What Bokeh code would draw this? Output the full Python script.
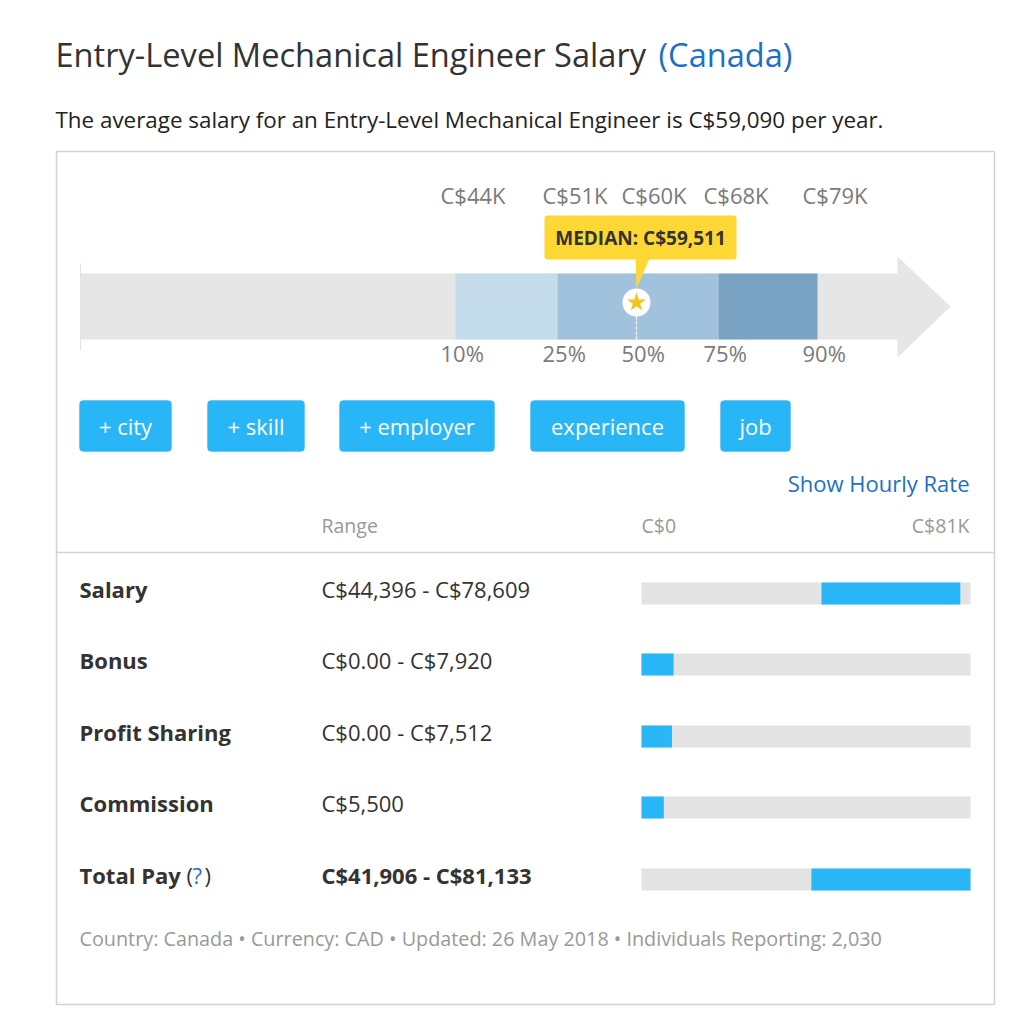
from bokeh.plotting import figure
from bokeh.models import Range1d, BoxAnnotation
from bokeh.embed import file_html
from bokeh.resources import INLINE
from bokeh.core.properties import value

# ---------------- data ----------------
job_title = "Entry-Level Mechanical Engineer Salary"
country = "(Canada)"
subtitle = "The average salary for an Entry-Level Mechanical Engineer is C$59,090 per year."
percentiles = ["10%", "25%", "50%", "75%", "90%"]
percentile_labels = ["C$44K", "C$51K", "C$60K", "C$68K", "C$79K"]
median_label = "MEDIAN: C$59,511"
buttons = ["+ city", "+ skill", "+ employer", "experience", "job"]
rows = ["Salary", "Bonus", "Profit Sharing", "Commission", "Total Pay"]
range_labels = ["C$44,396 - C$78,609", "C$0.00 - C$7,920", "C$0.00 - C$7,512",
                "C$5,500", "C$41,906 - C$81,133"]
low = [44396, 0, 0, 0, 41906]
high = [78609, 7920, 7512, 5500, 81133]
scale_min = 0
scale_max = 81133
scale_labels = ["C$0", "C$81K"]
footer = "Country: Canada \u2022 Currency: CAD \u2022 Updated: 26 May 2018 \u2022 Individuals Reporting: 2,030"

# ---------------- layout (pixels) ----------------
W, H = 1024, 1014
FONT = value("Open Sans")
DARK = "#333333"
GREY_TXT = "#7a7a7a"
LIGHT_TXT = "#999999"
LINK = "#1f6fc5"
BTN = "#29b6f6"

pct_x = [455, 557, 636, 718, 817]          # segment boundaries on the arrow
seg_colors = ["#c5dcec", "#a1c2dd", "#a1c2dd", "#7aa2c3"]
btn_left = [79, 207, 339, 530, 720]
btn_right = [171, 304, 494, 684, 790]
row_y = [593, 664, 736, 807, 879]
bar_left_px, bar_right_px = 641, 970

p = figure(width=W, height=H, output_backend="svg", toolbar_location=None,
           x_range=Range1d(0, W), y_range=Range1d(H, 0),
           x_axis_location=None, y_axis_location=None, min_border=0)
p.grid.visible = False
p.outline_line_color = None
p.background_fill_color = "white"
p.border_fill_color = "white"

# pay scale range mapped onto the table bars
k = (scale_max - scale_min) / (bar_right_px - bar_left_px)
p.extra_x_ranges = {"pay": Range1d(scale_min - bar_left_px * k, scale_min + (W - bar_left_px) * k)}

# titles
p.text(x=[55], y=[54], text=[job_title], text_font=FONT, text_font_size="32.6px",
       text_color=DARK, text_baseline="middle")
p.text(x=[658], y=[54], text=[country], text_font=FONT, text_font_size="32.6px",
       text_color=LINK, text_baseline="middle")
p.text(x=[55], y=[119], text=[subtitle], text_font=FONT, text_font_size="22.4px",
       text_color="#222222", text_baseline="middle")

# outer box
p.quad(left=[56], right=[994], top=[151], bottom=[1004], fill_color=None,
       line_color="#d3d3d3", line_width=1.5)
p.segment(x0=[56], x1=[994], y0=[552], y1=[552], line_color="#d3d3d3", line_width=1.5)

# arrow
p.segment(x0=[80], x1=[80], y0=[263], y1=[350], line_color="#e2e2e2", line_width=1)
p.quad(left=[80], right=[898], top=[273], bottom=[339], fill_color="#e6e6e6", line_color=None)
p.patch(x=[897, 950, 897], y=[256, 306, 357], fill_color="#e6e6e6", line_color=None)
p.quad(left=pct_x[:-1], right=pct_x[1:], top=[273] * 4, bottom=[339] * 4,
       fill_color=seg_colors, line_color=None)

# percentile labels
p.text(x=[v - 15 for v in pct_x], y=[194] * 5, text=percentile_labels, text_font=FONT,
       text_font_size="22px", text_color=GREY_TXT, text_baseline="middle")
p.text(x=[v - 15 for v in pct_x], y=[352] * 5, text=percentiles, text_font=FONT,
       text_font_size="22px", text_color=GREY_TXT, text_baseline="middle")

# median marker
mx = pct_x[2]
p.add_layout(BoxAnnotation(left=544, right=736, top=215, bottom=259, fill_color="#fdd835",
                           fill_alpha=1, line_color=None, border_radius=3, level="underlay"))
p.patch(x=[mx - 1, mx + 13, mx], y=[258, 258, 288], fill_color="#fdd835", line_color=None)
p.text(x=[640], y=[237], text=[median_label], text_font=FONT, text_font_size="19px",
       text_font_style="bold", text_color=DARK, text_align="center", text_baseline="middle")
p.segment(x0=[mx], x1=[mx], y0=[316], y1=[339], line_color="white", line_width=1.2,
          line_dash="3 2")
p.scatter(x=[mx], y=[302], size=28, marker="circle", fill_color="white", line_color=None)
p.scatter(x=[mx], y=[302], size=20, marker="star", fill_color="#f6c21c", line_color=None)

# buttons
for l, r in zip(btn_left, btn_right):
    p.add_layout(BoxAnnotation(left=l, right=r, top=400, bottom=451, fill_color=BTN,
                               fill_alpha=1, line_color="#1fa5e0", line_width=1,
                               border_radius=4, level="underlay"))
p.text(x=[(l + r) / 2 for l, r in zip(btn_left, btn_right)], y=[425] * 5, text=buttons,
       text_font=FONT, text_font_size="22px", text_color="white", text_align="center",
       text_baseline="middle")

p.text(x=[969], y=[482], text=["Show Hourly Rate"], text_font=FONT, text_font_size="22px",
       text_color=LINK, text_align="right", text_baseline="middle")

# table header
p.text(x=[321], y=[525], text=["Range"], text_font=FONT, text_font_size="19.5px",
       text_color=LIGHT_TXT, text_baseline="middle")
p.text(x=[641], y=[525], text=[scale_labels[0]], text_font=FONT, text_font_size="19.5px",
       text_color=LIGHT_TXT, text_baseline="middle")
p.text(x=[969], y=[525], text=[scale_labels[1]], text_font=FONT, text_font_size="19.5px",
       text_color=LIGHT_TXT, text_align="right", text_baseline="middle")

# table rows
label_y = [y - 5 for y in row_y]
p.text(x=[79] * 5, y=label_y, text=rows, text_font=FONT, text_font_size="22px",
       text_font_style="bold", text_color=DARK, text_baseline="middle")
p.text(x=[321] * 4, y=label_y[:4], text=range_labels[:4], text_font=FONT,
       text_font_size="22px", text_color=DARK, text_baseline="middle")
p.text(x=[321], y=label_y[4:], text=range_labels[4:], text_font=FONT,
       text_font_size="22px", text_font_style="bold", text_color=DARK, text_baseline="middle")
p.text(x=[186, 204], y=[label_y[4]] * 2, text=["(", ")"], text_font=FONT,
       text_font_size="22px", text_color=DARK, text_baseline="middle")
p.text(x=[192], y=[label_y[4]], text=["?"], text_font=FONT,
       text_font_size="22px", text_color=LINK, text_baseline="middle")

p.hbar(y=row_y, left=[scale_min] * 5, right=[scale_max] * 5, height=22,
       fill_color="#e3e3e3", line_color=None, x_range_name="pay")
p.hbar(y=row_y, left=low, right=high, height=22, fill_color=BTN, line_color=None,
       x_range_name="pay")

# footer
p.text(x=[79], y=[938], text=[footer], text_font=FONT, text_font_size="19.8px",
       text_color=LIGHT_TXT, text_baseline="middle")

open("out.html", "w").write(file_html(p, INLINE))
